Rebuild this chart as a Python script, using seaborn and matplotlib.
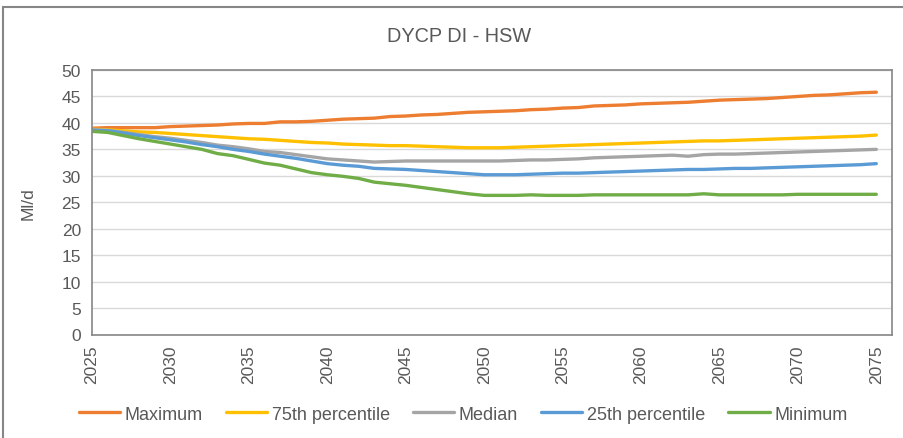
import matplotlib
matplotlib.use("Agg")
import matplotlib.pyplot as plt
import matplotlib.patches as mpatches
import numpy as np
import pandas as pd
import seaborn as sns

years = list(range(2025, 2076))

maximum = [39.0, 39.1, 39.1, 39.1, 39.1, 39.3, 39.4, 39.5, 39.6, 39.8,
           39.9, 39.9, 40.2, 40.2, 40.3, 40.5, 40.7, 40.8, 40.9, 41.2,
           41.3, 41.5, 41.6, 41.8, 42.0, 42.1, 42.2, 42.3, 42.5, 42.6,
           42.8, 42.9, 43.2, 43.3, 43.4, 43.6, 43.7, 43.8, 43.9, 44.1,
           44.3, 44.4, 44.5, 44.6, 44.8, 45.0, 45.2, 45.3, 45.5, 45.7,
           45.8]
pct75 = [38.8, 38.7, 38.5, 38.3, 38.2, 38.0, 37.8, 37.6, 37.4, 37.2,
         37.0, 36.9, 36.7, 36.5, 36.3, 36.2, 36.0, 35.9, 35.8, 35.7,
         35.7, 35.6, 35.5, 35.4, 35.3, 35.3, 35.3, 35.4, 35.5, 35.6,
         35.7, 35.8, 35.9, 36.0, 36.1, 36.2, 36.3, 36.4, 36.5, 36.6,
         36.6, 36.7, 36.8, 36.9, 37.0, 37.1, 37.2, 37.3, 37.4, 37.5,
         37.7]
median = [38.7, 38.6, 38.2, 37.8, 37.4, 37.1, 36.7, 36.3, 35.8, 35.5,
          35.1, 34.6, 34.4, 34.0, 33.6, 33.2, 33.0, 32.8, 32.6, 32.7,
          32.8, 32.8, 32.8, 32.8, 32.8, 32.8, 32.8, 32.9, 33.0, 33.0,
          33.1, 33.2, 33.4, 33.5, 33.6, 33.7, 33.8, 33.9, 33.7, 34.0,
          34.1, 34.1, 34.2, 34.3, 34.4, 34.5, 34.6, 34.7, 34.8, 34.9,
          35.0]
pct25 = [38.6, 38.5, 38.1, 37.6, 37.2, 36.8, 36.4, 35.9, 35.5, 35.0,
         34.6, 34.1, 33.7, 33.3, 32.8, 32.3, 32.0, 31.8, 31.4, 31.3,
         31.2, 31.0, 30.8, 30.6, 30.4, 30.2, 30.2, 30.2, 30.3, 30.4,
         30.5, 30.5, 30.6, 30.7, 30.8, 30.9, 31.0, 31.1, 31.2, 31.2,
         31.3, 31.4, 31.4, 31.5, 31.6, 31.7, 31.8, 31.9, 32.0, 32.1,
         32.3]
minimum = [38.4, 38.2, 37.6, 37.0, 36.5, 36.0, 35.5, 35.0, 34.2, 33.8,
           33.1, 32.4, 32.0, 31.3, 30.6, 30.2, 29.9, 29.5, 28.8, 28.5,
           28.2, 27.8, 27.4, 27.0, 26.6, 26.3, 26.3, 26.3, 26.4, 26.3,
           26.3, 26.3, 26.4, 26.4, 26.4, 26.4, 26.4, 26.4, 26.4, 26.6,
           26.4, 26.4, 26.4, 26.4, 26.4, 26.5, 26.5, 26.5, 26.5, 26.5,
           26.5]

series_names = ["Maximum", "75th percentile", "Median", "25th percentile", "Minimum"]
series_colors = ["#ED7D31", "#FFC000", "#A5A5A5", "#5B9BD5", "#70AD47"]
x_ticks = list(range(2025, 2076, 5))
y_ticks = list(range(0, 51, 5))

df = pd.DataFrame({
    "Year": years * 5,
    "Value": maximum + pct75 + median + pct25 + minimum,
    "Series": sum([[n] * len(years) for n in series_names], []),
})

sns.set_theme(style="white")
plt.rcParams["font.family"] = ["Liberation Sans", "DejaVu Sans"]
text_col = "#595959"

fig = plt.figure(figsize=(9.04, 4.39), dpi=100)
ax = fig.add_axes([92 / 904, (439 - 335.5) / 439, (892 - 92) / 904, (335.5 - 71) / 439])

sns.lineplot(data=df, x="Year", y="Value", hue="Series", hue_order=series_names,
             palette=series_colors, linewidth=2.4, ax=ax, legend=False)

ax.set_xlim(2025, 2076)
ax.set_ylim(0, 50)
ax.set_xticks(x_ticks)
ax.set_xticklabels([str(t) for t in x_ticks], rotation=90, fontsize=12.5, color=text_col)
ax.set_yticks(y_ticks)
ax.set_yticklabels([str(t) for t in y_ticks], fontsize=12.5, color=text_col)
ax.yaxis.grid(True, color="#D9D9D9", linewidth=1.0)
ax.set_axisbelow(True)
ax.tick_params(axis="x", direction="out", length=5, color="#868686", width=1, pad=2)
ax.tick_params(axis="y", length=0, pad=8)
for sp in ax.spines.values():
    sp.set_color("#868686")
    sp.set_linewidth(1.2)

ax.set_xlabel("")
ax.set_ylabel("Ml/d", fontsize=12.5, color=text_col)
ax.yaxis.set_label_coords((36 - 92) / 800, 0.5)
fig.text(459 / 904, 1 - 37 / 439, "DYCP DI - HSW", ha="center", va="center",
         fontsize=14.3, color=text_col)

handles = [plt.Line2D([0], [0], color=c, lw=2.4) for c in series_colors]
fig.legend(handles, series_names, loc="center", bbox_to_anchor=(463 / 904, 1 - 415 / 439),
           ncol=5, frameon=False, fontsize=13, handlelength=2.3, handletextpad=0.25,
           columnspacing=1.27, labelcolor=text_col, borderaxespad=0, borderpad=0)

fig.patches.append(mpatches.Rectangle((3 / 904, -0.2), 1.2, 1.2 - 8 / 439,
                                      transform=fig.transFigure, fill=False,
                                      edgecolor="#868686", linewidth=1.5))

fig.savefig("out.png", dpi=100, facecolor="white")
